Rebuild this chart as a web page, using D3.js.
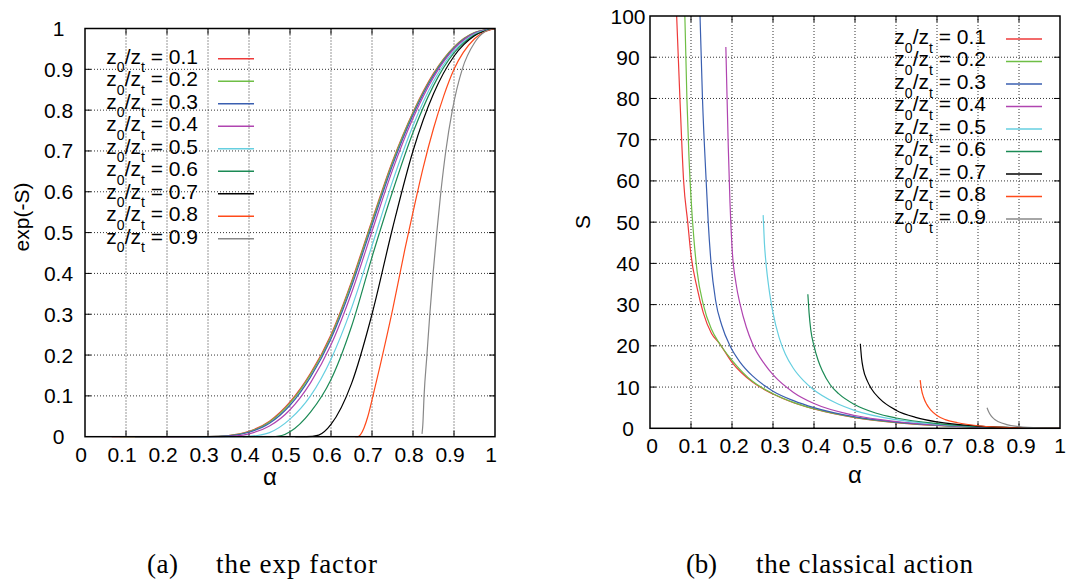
<!DOCTYPE html>
<html>
<head>
<meta charset="utf-8">
<script src="https://cdn.jsdelivr.net/npm/d3@7"></script>
<style>
  body { margin: 0; background: #fff; }
  text { font-family: "Liberation Sans", Arial, sans-serif; fill: #000; }
  .caption { font-family: "Liberation Serif", "Times New Roman", serif; }
</style>
</head>
<body>
<svg width="1066" height="582"></svg>
<script>
// z0/zt ratios and their line colours
const ratios = ["0.1", "0.2", "0.3", "0.4", "0.5", "0.6", "0.7", "0.8", "0.9"];
const colors = ["#ee3a3a", "#6ebe45", "#3a5fb0", "#b044b0", "#66cfe0", "#1b8a55", "#000000", "#ff4a1a", "#888888"];

const alphaTicks = [0, 0.1, 0.2, 0.3, 0.4, 0.5, 0.6, 0.7, 0.8, 0.9, 1];
const expTicks = [0, 0.1, 0.2, 0.3, 0.4, 0.5, 0.6, 0.7, 0.8, 0.9, 1];
const actionTicks = [0, 10, 20, 30, 40, 50, 60, 70, 80, 90, 100];

// (a) exp(-S) against alpha, one list per ratio
const expSeries = [
  [[0.065,0],[0.3,0.0005],[0.35,0.003],[0.4,0.013],[0.45,0.038],[0.5,0.085],[0.55,0.155],[0.6,0.25],[0.65,0.38],[0.7,0.53],[0.75,0.675],[0.8,0.795],[0.85,0.89],[0.9,0.955],[0.95,0.99],[1,1]],
  [[0.085,0],[0.3,0.0004],[0.35,0.003],[0.4,0.012],[0.45,0.036],[0.5,0.082],[0.55,0.152],[0.6,0.246],[0.65,0.376],[0.7,0.526],[0.75,0.672],[0.8,0.793],[0.85,0.888],[0.9,0.954],[0.95,0.99],[1,1]],
  [[0.122,0],[0.3,0.0003],[0.35,0.002],[0.4,0.011],[0.45,0.033],[0.5,0.077],[0.55,0.146],[0.6,0.24],[0.65,0.368],[0.7,0.518],[0.75,0.665],[0.8,0.788],[0.85,0.885],[0.9,0.952],[0.95,0.989],[1,1]],
  [[0.185,0],[0.33,0],[0.37,0.002],[0.4,0.007],[0.45,0.026],[0.5,0.066],[0.55,0.132],[0.6,0.225],[0.65,0.352],[0.7,0.503],[0.75,0.653],[0.8,0.78],[0.85,0.88],[0.9,0.95],[0.95,0.988],[1,1]],
  [[0.276,0],[0.38,0],[0.42,0.003],[0.45,0.01],[0.5,0.043],[0.55,0.1],[0.6,0.19],[0.65,0.315],[0.7,0.468],[0.75,0.625],[0.8,0.762],[0.85,0.87],[0.9,0.945],[0.95,0.986],[1,1]],
  [[0.385,0],[0.45,0],[0.48,0.003],[0.5,0.012],[0.55,0.06],[0.6,0.14],[0.65,0.27],[0.7,0.44],[0.75,0.6],[0.8,0.745],[0.85,0.86],[0.9,0.94],[0.95,0.984],[1,1]],
  [[0.513,0],[0.54,0],[0.57,0.004],[0.6,0.03],[0.65,0.13],[0.7,0.3],[0.75,0.51],[0.8,0.7],[0.85,0.84],[0.9,0.932],[0.95,0.982],[1,1]],
  [[0.659,0],[0.666,0],[0.672,0.005],[0.69,0.05],[0.7,0.09],[0.72,0.175],[0.75,0.31],[0.78,0.458],[0.8,0.55],[0.825,0.66],[0.85,0.755],[0.875,0.835],[0.9,0.9],[0.95,0.975],[1,1]],
  [[0.822,0.007],[0.824,0.03],[0.827,0.1],[0.834,0.2],[0.841,0.3],[0.849,0.4],[0.858,0.5],[0.868,0.6],[0.88,0.7],[0.896,0.8],[0.92,0.9],[0.95,0.965],[0.975,0.992],[1,1]]
];

// (b) classical action S against alpha
const actionSeries = [
  [[0.065,100],[0.073,80],[0.082,60],[0.092,50],[0.1,42],[0.115,34],[0.13,28],[0.15,23],[0.17,20.5],[0.2,16],[0.25,11.2],[0.3,8.3],[0.35,6.2],[0.4,4.7],[0.5,2.6],[0.6,1.4],[0.7,0.7],[0.8,0.28],[0.9,0.06],[1,0]],
  [[0.085,100],[0.09,80],[0.095,66],[0.1,56],[0.107,46],[0.115,38],[0.13,30],[0.15,24],[0.17,20.5],[0.2,16.5],[0.25,11.4],[0.3,8.4],[0.35,6.3],[0.4,4.75],[0.5,2.65],[0.6,1.45],[0.7,0.72],[0.8,0.29],[0.9,0.06],[1,0]],
  [[0.122,100],[0.128,80],[0.137,60],[0.142,50],[0.149,40],[0.16,31],[0.175,25],[0.195,20],[0.22,16],[0.25,12.7],[0.28,10.3],[0.3,9],[0.35,6.7],[0.4,5],[0.5,2.75],[0.6,1.5],[0.7,0.75],[0.8,0.3],[0.9,0.07],[1,0]],
  [[0.185,92.5],[0.188,80],[0.191,68],[0.195,55],[0.2,44],[0.21,35],[0.22,30],[0.235,24.5],[0.25,20.5],[0.28,15.5],[0.3,13],[0.35,8.7],[0.4,6],[0.5,3.1],[0.6,1.65],[0.7,0.8],[0.8,0.33],[0.9,0.07],[1,0]],
  [[0.276,51.7],[0.279,45],[0.283,40],[0.29,34],[0.3,28],[0.315,22],[0.33,18],[0.35,14.5],[0.375,11.5],[0.4,9.3],[0.45,6.3],[0.5,4.3],[0.6,2.1],[0.7,1],[0.8,0.4],[0.9,0.09],[1,0]],
  [[0.385,32.5],[0.388,28],[0.392,24],[0.4,20],[0.41,16.5],[0.42,14],[0.44,10.5],[0.46,8.4],[0.5,5.7],[0.55,3.7],[0.6,2.5],[0.7,1.15],[0.8,0.45],[0.9,0.1],[1,0]],
  [[0.513,20.5],[0.516,17],[0.52,14.5],[0.53,11.5],[0.54,9.6],[0.56,7.2],[0.6,4.4],[0.65,2.6],[0.7,1.55],[0.8,0.55],[0.9,0.13],[1,0]],
  [[0.659,11.7],[0.662,9.5],[0.667,7.6],[0.675,5.8],[0.685,4.4],[0.7,3.1],[0.72,2.1],[0.75,1.35],[0.8,0.62],[0.85,0.27],[0.9,0.09],[1,0]],
  [[0.822,5],[0.826,4],[0.832,3],[0.84,2.2],[0.85,1.6],[0.87,0.9],[0.9,0.4],[0.95,0.08],[1,0]]
];

const svg = d3.select("svg");
const pageWidth = 1066;

function panel(o) {
    let x = d3.scaleLinear().domain([0, 1]).range([o.left, o.right]);
    let y = d3.scaleLinear().domain([0, o.ymax]).range([o.bottom, o.top]);
    let g = svg.append("g");
    let inner = o.yTicks.slice(1, -1);

    //dotted grid
    g.selectAll(".vgrid").data(alphaTicks.slice(1, -1)).enter().append("line")
        .attr("x1", d => x(d)).attr("x2", d => x(d))
        .attr("y1", o.top).attr("y2", o.bottom)
        .attr("stroke", "#333").attr("stroke-width", 1)
        .attr("stroke-dasharray", "1,2");
    g.selectAll(".hgrid").data(inner).enter().append("line")
        .attr("x1", o.left).attr("x2", o.right)
        .attr("y1", d => y(d)).attr("y2", d => y(d))
        .attr("stroke", "#333").attr("stroke-width", 1)
        .attr("stroke-dasharray", "1,2");

    //inward tick marks on all four sides
    let tl = 6;
    alphaTicks.slice(1, -1).forEach(function (d) {
        g.append("line").attr("x1", x(d)).attr("x2", x(d)).attr("y1", o.bottom).attr("y2", o.bottom - tl).attr("stroke", "#000");
        g.append("line").attr("x1", x(d)).attr("x2", x(d)).attr("y1", o.top).attr("y2", o.top + tl).attr("stroke", "#000");
    });
    inner.forEach(function (d) {
        g.append("line").attr("x1", o.left).attr("x2", o.left + tl).attr("y1", y(d)).attr("y2", y(d)).attr("stroke", "#000");
        g.append("line").attr("x1", o.right).attr("x2", o.right - tl).attr("y1", y(d)).attr("y2", y(d)).attr("stroke", "#000");
    });

    //curves
    let line = d3.line()
        .x(d => x(d[0]))
        .y(d => y(d[1]))
        .curve(d3.curveMonotoneX);
    g.selectAll(".curve").data(o.series).enter().append("path")
        .attr("d", line)
        .attr("fill", "none")
        .attr("stroke", (d, i) => colors[i])
        .attr("stroke-width", 1.2);

    //frame
    g.append("rect")
        .attr("x", o.left).attr("y", o.top)
        .attr("width", o.right - o.left).attr("height", o.bottom - o.top)
        .attr("fill", "none").attr("stroke", "#000").attr("stroke-width", 1.5);

    //tick labels (the last one is kept inside the page)
    g.selectAll(".xlab").data(alphaTicks).enter().append("text")
        .attr("x", d => Math.min(x(d) + o.xShift, pageWidth - 6))
        .attr("y", o.bottom + 25)
        .attr("text-anchor", "middle")
        .attr("font-size", 21)
        .text(d => String(d));
    g.selectAll(".ylab").data(o.yTicks).enter().append("text")
        .attr("x", o.yLabelX)
        .attr("y", d => y(d) + 7.5)
        .attr("text-anchor", "middle")
        .attr("font-size", 21)
        .text(d => String(d));

    //axis titles
    g.append("text")
        .attr("x", o.xTitle[0]).attr("y", o.xTitle[1])
        .attr("text-anchor", "middle")
        .attr("font-size", 24)
        .text("α");
    g.append("text")
        .attr("transform", "translate(" + o.yTitle[0] + "," + o.yTitle[1] + ") rotate(-90)")
        .attr("text-anchor", "middle")
        .attr("font-size", 21)
        .text(o.yName);

    //legend
    let leg = g.selectAll(".leg").data(ratios).enter().append("g")
        .attr("transform", (d, i) => "translate(0," + (o.legY + i * 22.5) + ")");
    let t = leg.append("text")
        .attr("x", o.legTextEnd)
        .attr("y", 4.8)
        .attr("text-anchor", "end")
        .attr("font-size", 21);
    t.append("tspan").text("z");
    t.append("tspan").attr("font-size", 14).attr("dy", 9).text("0");
    t.append("tspan").attr("dy", -9).text("/z");
    t.append("tspan").attr("font-size", 14).attr("dy", 9).text("t");
    t.append("tspan").attr("dy", -9).text(d => " = " + d);
    leg.append("line")
        .attr("x1", o.legLine[0]).attr("x2", o.legLine[1])
        .attr("y1", 0).attr("y2", 0)
        .attr("stroke", (d, i) => colors[i])
        .attr("stroke-width", 1.5);
}

panel({
    left: 85, right: 495, top: 28.5, bottom: 436.7, ymax: 1,
    yTicks: expTicks, series: expSeries,
    yLabelX: 58.5, xShift: -4,
    xTitle: [270, 485], yTitle: [29, 217], yName: "exp(-S)",
    legY: 58.7, legTextEnd: 198, legLine: [218, 254]
});

panel({
    left: 650, right: 1060, top: 16, bottom: 428.3, ymax: 100,
    yTicks: actionTicks, series: actionSeries,
    yLabelX: 628, xShift: 2,
    xTitle: [855, 483], yTitle: [590, 222], yName: "S",
    legY: 39, legTextEnd: 986, legLine: [1006, 1042]
});

//sub-captions
let caps = [
    {label: "(a)", lx: 147, text: "the exp factor", tx: 216, tw: 161},
    {label: "(b)", lx: 686, text: "the classical action", tx: 756, tw: 217}
];
caps.forEach(function (c) {
    svg.append("text").attr("class", "caption")
        .attr("x", c.lx).attr("y", 573).attr("font-size", 27)
        .attr("textLength", 31).attr("lengthAdjust", "spacing")
        .text(c.label);
    svg.append("text").attr("class", "caption")
        .attr("x", c.tx).attr("y", 573).attr("font-size", 27)
        .attr("textLength", c.tw).attr("lengthAdjust", "spacing")
        .text(c.text);
});
</script>
</body>
</html>
